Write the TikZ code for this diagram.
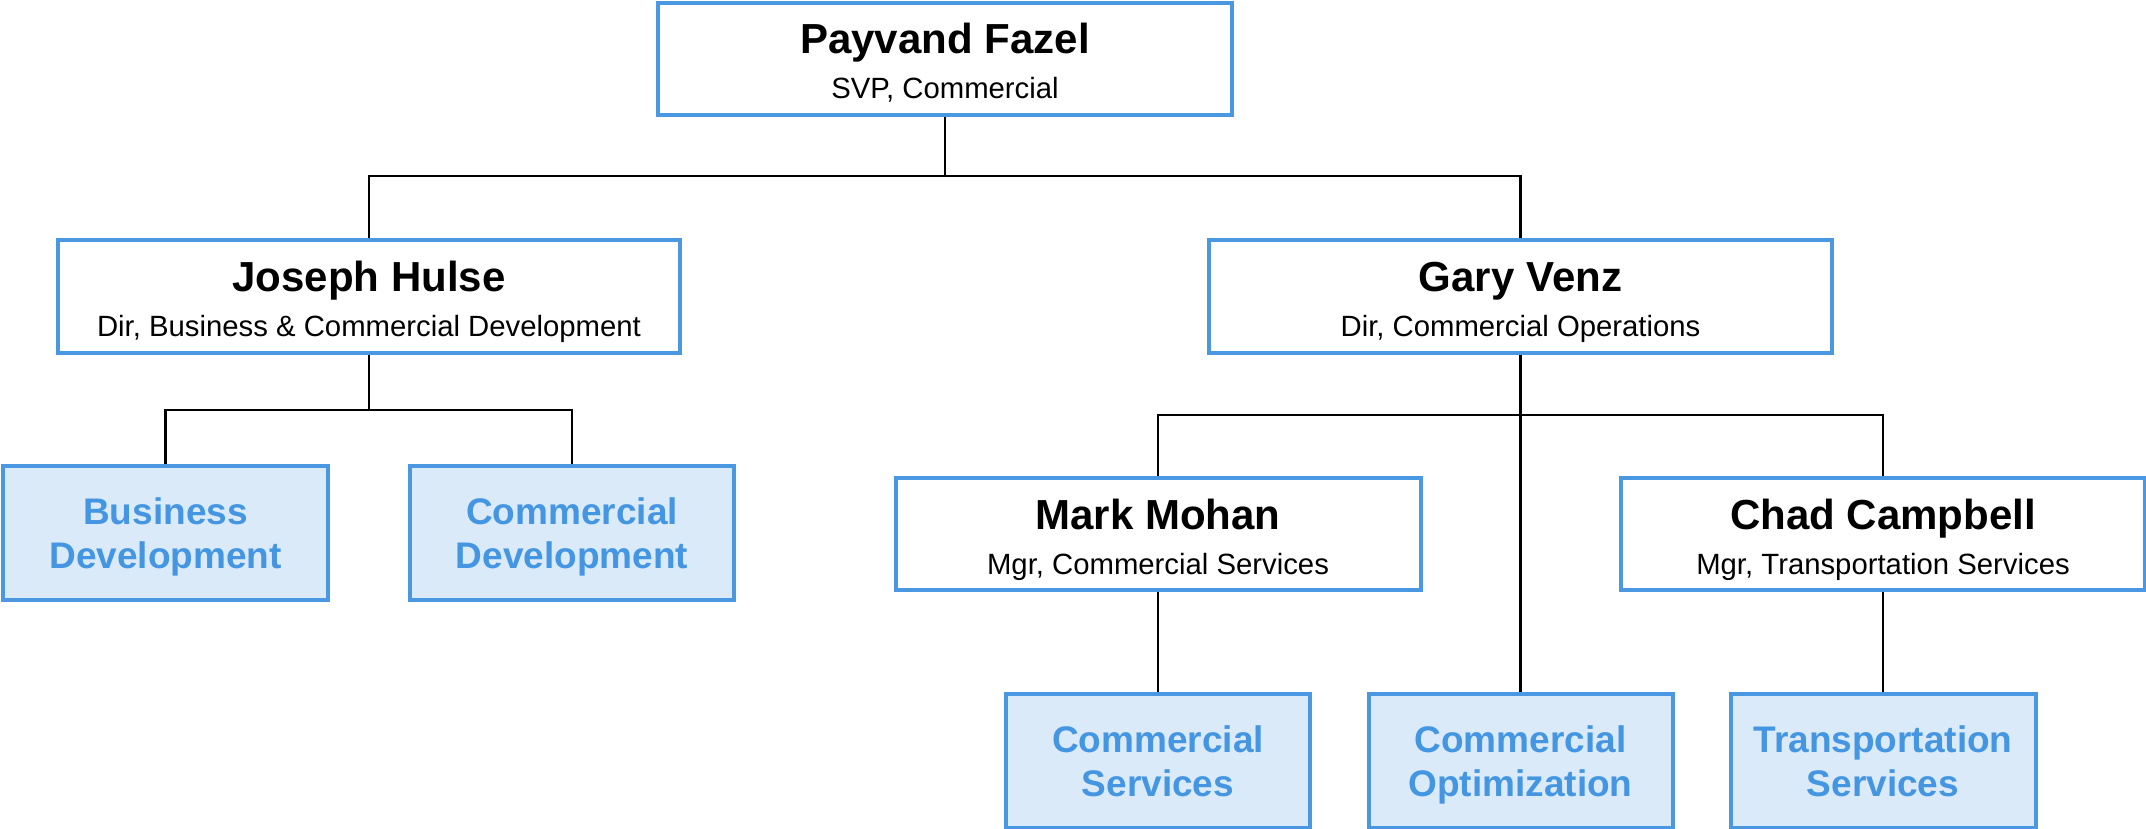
\documentclass[tikz,border=0pt]{standalone}
\usepackage{fontspec}
\setmainfont{Liberation Sans}
\usetikzlibrary{calc}
\definecolor{bordblue}{RGB}{74,152,226}
\definecolor{fillblue}{RGB}{218,234,248}
\definecolor{textblue}{RGB}{68,150,226}
\begin{document}
\begin{tikzpicture}[x=1pt,y=-1pt,
  pbox/.style={draw=bordblue, line width=4pt, fill=white, inner sep=0pt},
  ubox/.style={draw=bordblue, line width=4pt, fill=fillblue, inner sep=0pt},
  nm/.style={anchor=base, inner sep=0pt, font=\fontsize{42}{48}\selectfont\bfseries},
  sub/.style={anchor=base, inner sep=0pt, font=\fontsize{29.3}{34}\selectfont},
  unit/.style={anchor=base, inner sep=0pt, text=textblue, font=\fontsize{37}{44}\selectfont\bfseries},
  conn/.style={draw=black, line width=2.4pt}
]
\useasboundingbox (0,0) rectangle (2146,829);

% connector junctions
\coordinate (b1) at (945,176);
\coordinate (b2) at (369,410);
\coordinate (b3) at (1520.5,415);

% boxes
\node[pbox, minimum width=574, minimum height=112] (pay) at (945,59) {};
\node[pbox, minimum width=622, minimum height=113] (jos) at (369,296.5) {};
\node[pbox, minimum width=623, minimum height=113] (gary) at (1520.5,296.5) {};
\node[ubox, minimum width=325, minimum height=134] (busdev) at (165.5,533) {};
\node[ubox, minimum width=324, minimum height=134] (comdev) at (572,533) {};
\node[pbox, minimum width=525, minimum height=112] (mark) at (1158,534) {};
\node[pbox, minimum width=524, minimum height=112] (chad) at (1883,534) {};
\node[ubox, minimum width=304, minimum height=134] (cs) at (1158,761) {};
\node[ubox, minimum width=304, minimum height=134] (co) at (1520.5,761) {};
\node[ubox, minimum width=305, minimum height=134] (ts) at (1883,761) {};

\draw[conn] (pay.south) -- (b1);
\draw[conn] (jos.north) |- (b1) -| (gary.north);
\draw[conn] (jos.south) -- (b2);
\draw[conn] (busdev.north) |- (b2) -| (comdev.north);
\draw[conn] (gary.south) -- (co.north);
\draw[conn] (mark.north) |- (b3) -| (chad.north);
\draw[conn] (mark.south) -- (cs.north);
\draw[conn] (chad.south) -- (ts.north);

% texts
\node[nm] (payN) at ($(pay.north)+(0,53)$) {Payvand Fazel};
\node[sub] (payS) at ($(pay.north)+(0,98)$) {SVP, Commercial};
\node[nm] (josN) at ($(jos.north)+(0,53)$) {Joseph Hulse};
\node[sub] (josS) at ($(jos.north)+(0,98)$) {Dir, Business \& Commercial Development};
\node[nm] (garyN) at ($(gary.north)+(0,53)$) {Gary Venz};
\node[sub] (garyS) at ($(gary.north)+(0,98)$) {Dir, Commercial Operations};
\node[nm] (markN) at ($(mark.north)+(0,53)$) {Mark Mohan};
\node[sub] (markS) at ($(mark.north)+(0,98)$) {Mgr, Commercial Services};
\node[nm] (chadN) at ($(chad.north)+(0,53)$) {Chad Campbell};
\node[sub] (chadS) at ($(chad.north)+(0,98)$) {Mgr, Transportation Services};

\node[unit] (busdevA) at ($(busdev.north)+(0,60)$) {Business};
\node[unit] (busdevB) at ($(busdev.north)+(0,104)$) {Development};
\node[unit] (comdevA) at ($(comdev.north)+(0,60)$) {Commercial};
\node[unit] (comdevB) at ($(comdev.north)+(0,104)$) {Development};
\node[unit] (csA) at ($(cs.north)+(0,60)$) {Commercial};
\node[unit] (csB) at ($(cs.north)+(0,104)$) {Services};
\node[unit] (coA) at ($(co.north)+(0,60)$) {Commercial};
\node[unit] (coB) at ($(co.north)+(0,104)$) {Optimization};
\node[unit] (tsA) at ($(ts.north)+(0,60)$) {Transportation};
\node[unit] (tsB) at ($(ts.north)+(0,104)$) {Services};
\end{tikzpicture}
\end{document}
